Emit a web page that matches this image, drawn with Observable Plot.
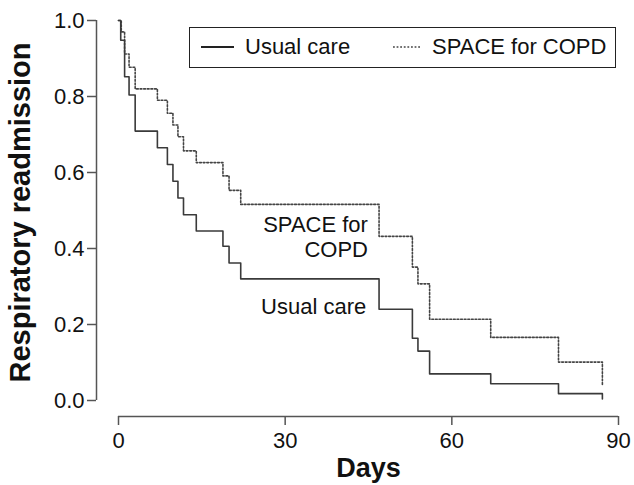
<!DOCTYPE html>
<html>
<head>
<meta charset="utf-8">
<script src="https://cdn.jsdelivr.net/npm/d3@7"></script>
<script src="https://cdn.jsdelivr.net/npm/@observablehq/plot@0.6"></script>
<style>
  body { margin: 0; background: #fff; }
  #wrap { position: relative; width: 634px; height: 485px; font-family: "Liberation Sans", Arial, sans-serif; }
  #legend { position: absolute; left: 189px; top: 27px; width: 427px; height: 41px; box-sizing: border-box;
            border: 1.5px solid #222; background: #fff; }
  #legend .item { position: absolute; top: 0; height: 38px; display: flex; align-items: center; font-size: 22px; color: #111; }
  #legend svg { margin-right: 11px; }
</style>
</head>
<body>
<div id="wrap"></div>
<script>
// Kaplan–Meier step data (days, proportion without readmission)
const usualDays = [0, 0.4, 1.1, 1.9, 3.0, 7.0, 8.8, 9.8, 10.7, 11.7, 14.0, 18.8, 19.9, 22.0, 46.9, 52.9, 53.9, 56.0, 67.0, 79.2, 87.1];
const usualSurv = [1.0, 0.948, 0.852, 0.804, 0.709, 0.665, 0.621, 0.577, 0.533, 0.489, 0.446, 0.406, 0.362, 0.320, 0.240, 0.164, 0.130, 0.070, 0.044, 0.018, 0.004];
const spaceDays = [0, 0.5, 1.1, 1.9, 3.0, 7.0, 8.8, 9.8, 10.7, 11.7, 14.0, 18.8, 19.9, 22.0, 46.9, 52.9, 53.9, 56.0, 67.0, 79.2, 87.1];
const spaceSurv = [1.0, 0.970, 0.912, 0.877, 0.820, 0.790, 0.756, 0.725, 0.694, 0.657, 0.626, 0.591, 0.553, 0.516, 0.432, 0.351, 0.307, 0.214, 0.166, 0.101, 0.040];

const seriesNames = ["Usual care", "SPACE for COPD"];
const xTicks = [0, 30, 60, 90];
const yTicks = [0, 0.2, 0.4, 0.6, 0.8, 1.0];
const xTitle = "Days";
const yTitle = "Respiratory readmission";
// in-plot curve labels (anchored in data space)
const curveLabels = [
  {day: 44.9, value: 0.432, text: "SPACE for\nCOPD"},
  {day: 44.6, value: 0.25, text: "Usual care"}
];

const usual = usualDays.map((d, i) => ({day: d, value: usualSurv[i]}));
const space = spaceDays.map((d, i) => ({day: d, value: spaceSurv[i]}));

const axisColor = "#555";
const chart = Plot.plot({
  width: 634,
  height: 485,
  marginLeft: 118,
  marginRight: 16,
  marginTop: 20,
  marginBottom: 85,
  style: {fontFamily: "'Liberation Sans', Arial, sans-serif", fontSize: "22px", color: "#111", background: "#fff"},
  x: {domain: [0, 90]},
  y: {domain: [0, 1]},
  marks: [
    Plot.ruleX([0], {y1: 0, y2: 1, dx: -22, stroke: axisColor, strokeWidth: 1.5}),
    Plot.ruleY([0], {x1: 0, x2: 90, dy: 16, stroke: axisColor, strokeWidth: 1.5}),
    Plot.axisY({ticks: yTicks, tickFormat: d3.format(".1f"), dx: -22, tickSize: 9, tickPadding: 3,
                stroke: axisColor, strokeWidth: 1.5, label: null, fontSize: 22}),
    Plot.axisX({ticks: xTicks, tickFormat: d => d, dy: 16, tickSize: 9, tickPadding: 7,
                stroke: axisColor, strokeWidth: 1.5, label: null, fontSize: 22}),
    Plot.line(space, {x: "day", y: "value", curve: "step-after", stroke: "#444", strokeWidth: 1.6, strokeDasharray: "1.8 1.8"}),
    Plot.line(usual, {x: "day", y: "value", curve: "step-after", stroke: "#3a3a3a", strokeWidth: 1.6}),
    Plot.text(curveLabels, {x: "day", y: "value", text: "text", textAnchor: "end", lineAnchor: "middle",
                            lineHeight: 1.14, fontSize: 22, fill: "#111"}),
    Plot.text([yTitle], {frameAnchor: "left", dx: -98, dy: 2, rotate: -90, textAnchor: "middle", lineAnchor: "middle",
                         fontSize: 29, fontWeight: "bold", fill: "#111"}),
    Plot.text([xTitle], {frameAnchor: "bottom", dy: 68, textAnchor: "middle", lineAnchor: "middle",
                         fontSize: 27, fontWeight: "bold", fill: "#111"})
  ]
});

const wrap = document.getElementById("wrap");
wrap.appendChild(chart);

const legend = document.createElement("div");
legend.id = "legend";
legend.innerHTML = `
  <div class="item" style="left:11px">
    <svg width="33" height="4"><line x1="0" x2="33" y1="2" y2="2" stroke="#222" stroke-width="2"/></svg>${seriesNames[0]}</div>
  <div class="item" style="left:203px">
    <svg width="28" height="4"><line x1="0" x2="28" y1="2" y2="2" stroke="#444" stroke-width="1.6" stroke-dasharray="1.8 1.8"/></svg>${seriesNames[1]}</div>`;
wrap.appendChild(legend);
</script>
</body>
</html>
